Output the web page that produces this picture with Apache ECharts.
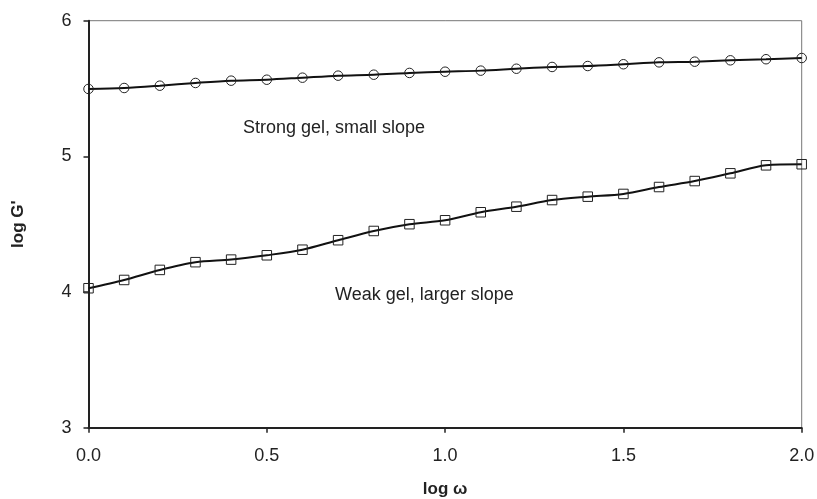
<!DOCTYPE html>
<html>
<head>
<meta charset="utf-8">
<script src="https://cdn.jsdelivr.net/npm/echarts@6/dist/echarts.min.js"></script>
<style>
html, body { margin: 0; padding: 0; background: #fff; }
#main { width: 817px; height: 499px; }
</style>
</head>
<body>
<div id="main"></div>
<script>
var logW = [0.0, 0.1, 0.2, 0.3, 0.4, 0.5, 0.6, 0.7, 0.8, 0.9, 1.0,
            1.1, 1.2, 1.3, 1.4, 1.5, 1.6, 1.7, 1.8, 1.9, 2.0];
var strongGel = [5.497, 5.504, 5.521, 5.541, 5.558, 5.565, 5.580, 5.595, 5.602, 5.615, 5.624,
                 5.632, 5.646, 5.659, 5.666, 5.679, 5.693, 5.698, 5.708, 5.716, 5.725];
var weakGel = [4.028, 4.089, 4.163, 4.220, 4.239, 4.271, 4.312, 4.382, 4.450, 4.500, 4.529,
               4.588, 4.629, 4.678, 4.703, 4.723, 4.774, 4.818, 4.875, 4.934, 4.942];
var xTicks = [0, 0.5, 1.0, 1.5, 2.0];
var yTicks = [3, 4, 5, 6];

function pairs(xs, ys) {
    return xs.map(function (x, i) { return [x, ys[i]]; });
}

var myChart = echarts.init(document.getElementById('main'));
var font = 'Liberation Sans, Arial, sans-serif';

var option = {
    animation: false,
    grid: {
        left: 88.5,
        right: 15.3,
        top: 20.7,
        bottom: 71.3,
        outerBoundsMode: 'none',
        containLabel: false,
        show: true,
        borderColor: '#777',
        borderWidth: 1
    },
    xAxis: {
        type: 'value',
        min: 0,
        max: 2,
        interval: 0.5,
        name: 'log ω',
        nameLocation: 'middle',
        nameGap: 53,
        nameTextStyle: { fontFamily: font, fontSize: 17, fontWeight: 'bold', color: '#222' },
        axisLine: { show: true, lineStyle: { color: '#222', width: 2 } },
        axisTick: { show: true, length: 5, lineStyle: { color: '#222', width: 1.5 } },
        axisLabel: {
            fontFamily: font, fontSize: 18, color: '#222', margin: 19,
            formatter: function (v) { return xTicks.indexOf(v) >= 0 ? v.toFixed(1) : ''; }
        },
        splitLine: { show: false }
    },
    yAxis: {
        type: 'value',
        min: 3,
        max: 6,
        interval: 1,
        name: "log G'",
        nameLocation: 'middle',
        nameGap: 62,
        nameTextStyle: { fontFamily: font, fontSize: 17, fontWeight: 'bold', color: '#222' },
        axisLine: { show: true, lineStyle: { color: '#222', width: 2 } },
        axisTick: { show: true, length: 5, lineStyle: { color: '#222', width: 1.5 } },
        axisLabel: {
            fontFamily: font, fontSize: 18, color: '#222', margin: 17,
            formatter: function (v) { return yTicks.indexOf(v) >= 0 ? String(v) : ''; }
        },
        splitLine: { show: false }
    },
    graphic: [
        {
            type: 'text', left: 243, top: 119,
            style: { text: 'Strong gel, small slope', fontFamily: font, fontSize: 18, fill: '#222' }
        },
        {
            type: 'text', left: 335, top: 286,
            style: { text: 'Weak gel, larger slope', fontFamily: font, fontSize: 18, fill: '#222' }
        }
    ],
    series: [
        {
            name: 'Strong gel',
            type: 'line',
            data: pairs(logW, strongGel),
            smooth: 0.3,
            symbol: 'circle',
            symbolSize: 9.5,
            lineStyle: { color: '#111', width: 2 },
            itemStyle: { color: 'rgba(0,0,0,0)', borderColor: '#222', borderWidth: 1 }
        },
        {
            name: 'Weak gel',
            type: 'line',
            data: pairs(logW, weakGel),
            smooth: 0.3,
            symbol: 'rect',
            symbolSize: 9.5,
            lineStyle: { color: '#111', width: 2 },
            itemStyle: { color: 'rgba(0,0,0,0)', borderColor: '#222', borderWidth: 1 }
        }
    ]
};

myChart.setOption(option, true);
</script>
</body>
</html>
